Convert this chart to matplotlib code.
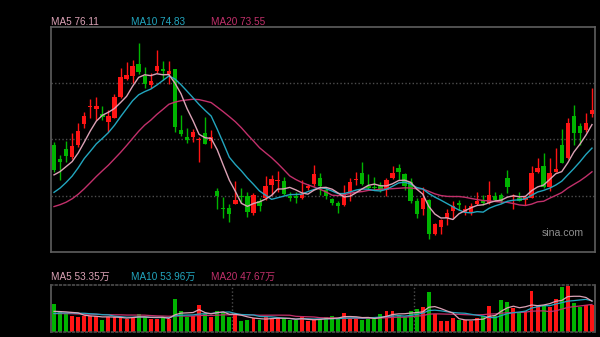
import numpy as np
import pandas as pd
import matplotlib
matplotlib.use("Agg")
import matplotlib.pyplot as plt

# daily prices, 90 sessions
opens = [75.00, 74.25, 74.79, 74.37, 75.00, 76.12, 77.06, 76.95, 76.68, 76.23,
         76.48, 77.59, 78.56, 78.75, 79.39, 78.75, 78.25, 79.02, 79.12, 78.85,
         79.10, 75.82, 75.45, 75.42, 75.29, 75.64, 75.22, 72.52, 71.61, 71.61,
         71.81, 72.24, 72.21, 71.31, 71.99, 72.15, 72.84, 73.04, 73.07, 72.24,
         72.26, 72.12, 72.68, 72.88, 73.23, 72.57, 72.07, 71.88, 71.76, 72.48,
         73.11, 73.50, 72.80, 72.75, 72.84, 72.57, 73.20, 73.74, 73.42, 73.02,
         71.97, 71.52, 72.03, 70.19, 70.55, 71.04, 71.43, 71.87, 71.39, 71.39,
         71.80, 72.03, 71.85, 72.21, 72.30, 73.20, 72.19, 72.12, 72.03, 72.15,
         73.56, 73.87, 72.75, 73.56, 75.00, 74.28, 76.57, 76.03, 75.82, 76.68]
highs = [75.15, 74.46, 75.22, 75.64, 76.18, 76.77, 77.49, 77.59, 77.11, 76.90,
         77.76, 79.15, 79.51, 79.60, 80.51, 79.21, 78.92, 80.14, 79.55, 79.55,
         79.12, 76.63, 75.91, 75.85, 75.45, 76.54, 75.82, 72.69, 72.17, 71.81,
         73.07, 72.68, 72.48, 72.39, 72.12, 73.34, 73.38, 73.60, 73.29, 72.48,
         72.48, 73.11, 72.89, 73.91, 73.50, 72.75, 72.15, 71.94, 72.84, 73.23,
         73.53, 74.10, 73.42, 73.29, 73.00, 73.20, 73.87, 73.96, 73.47, 73.20,
         72.12, 72.75, 72.05, 70.77, 70.98, 71.54, 71.99, 72.03, 71.76, 71.85,
         72.45, 72.30, 73.07, 72.48, 72.39, 73.65, 72.34, 72.48, 72.21, 73.87,
         74.28, 74.59, 74.28, 74.83, 75.85, 76.45, 77.17, 76.18, 76.75, 78.10]
lows = [73.53, 73.11, 74.07, 74.25, 74.91, 75.94, 76.45, 76.36, 76.36, 75.72,
        76.45, 77.53, 78.52, 78.34, 78.83, 78.07, 78.07, 78.88, 78.52, 78.29,
        75.72, 75.51, 75.10, 75.15, 74.10, 75.04, 74.86, 71.54, 71.04, 70.85,
        71.80, 71.87, 71.12, 71.22, 71.45, 72.03, 72.30, 72.48, 72.30, 71.99,
        71.85, 72.08, 72.57, 72.79, 72.30, 72.08, 71.76, 71.34, 71.70, 71.99,
        72.84, 72.84, 72.62, 72.57, 72.46, 72.24, 73.15, 73.11, 72.57, 71.85,
        71.07, 71.22, 69.92, 70.10, 70.19, 70.68, 71.07, 71.49, 71.22, 71.22,
        71.76, 71.76, 71.80, 71.94, 71.85, 72.39, 71.54, 71.94, 71.76, 72.12,
        73.47, 72.69, 72.52, 73.53, 74.01, 74.25, 75.00, 75.00, 75.69, 76.54]
closes = [73.65, 74.07, 74.43, 74.95, 75.76, 76.57, 77.10, 77.11, 76.54, 76.57,
          77.59, 78.70, 78.79, 79.29, 78.97, 78.29, 78.48, 79.29, 79.02, 79.02,
          75.99, 75.60, 75.27, 75.71, 75.33, 75.06, 75.42, 72.21, 71.52, 71.27,
          72.03, 72.16, 71.39, 72.30, 71.72, 72.79, 73.16, 73.09, 72.35, 72.12,
          72.12, 72.34, 72.76, 73.42, 72.79, 72.21, 71.85, 71.72, 72.35, 73.02,
          73.15, 72.89, 72.66, 72.69, 72.57, 73.11, 73.47, 73.53, 72.79, 71.99,
          71.27, 72.12, 70.19, 70.73, 70.91, 71.31, 71.67, 71.76, 71.54, 71.72,
          71.94, 71.85, 72.30, 72.03, 71.94, 72.75, 72.24, 71.99, 72.16, 73.47,
          73.78, 72.75, 73.50, 73.71, 74.05, 76.18, 75.64, 75.64, 76.18, 76.90]
# volume in 万 shares
volumes = [48.1, 34.3, 30.9, 26.9, 25.2, 28.0, 28.0, 28.0, 21.2, 25.8,
           25.8, 25.8, 21.8, 25.8, 30.9, 26.3, 21.8, 22.9, 25.2, 21.8,
           56.7, 36.6, 25.2, 28.0, 46.9, 30.9, 26.3, 35.5, 34.3, 26.3,
           30.9, 18.3, 21.2, 24.0, 21.2, 26.9, 22.9, 24.0, 24.0, 20.0,
           20.0, 26.9, 18.3, 20.6, 22.9, 26.3, 28.0, 22.9, 32.6, 24.0,
           24.0, 21.2, 24.0, 24.0, 30.9, 35.5, 36.6, 29.8, 25.2, 36.6,
           40.1, 42.4, 69.8, 30.9, 19.5, 19.5, 24.0, 21.2, 20.6, 18.3,
           24.0, 26.9, 45.8, 28.0, 55.5, 52.7, 41.1, 32.6, 36.6, 70.6,
           46.9, 46.9, 44.1, 57.2, 77.75, 80.1, 49.8, 44.1, 46.9, 45.85]

# the 19 sessions before the window, only used to seed the moving averages
prev_closes = [72.03, 71.76, 71.22, 70.84, 70.62, 70.51, 70.40, 70.30, 70.51, 70.73,
               71.76, 71.38, 71.49, 71.27, 71.54, 73.18, 73.07, 73.60, 73.41]
prev_volumes = [30.5, 33.0, 29.4, 35.2, 31.8, 28.6, 34.0, 30.2, 27.5, 32.4,
                26.8, 29.9, 25.7, 31.3, 28.2, 36.4, 33.8, 31.5, 29.0]

# first session of each new month
month_starts = [30, 60]

RED = "#ff1414"
GREEN = "#00b400"
C_MA5 = "#dca2b6"
C_MA10 = "#22a6bf"
C_MA20 = "#c2306b"
GRID = "#4d4d4d"
FRAME = "#5e5e5e"
FONT = ["Liberation Sans", "Noto Sans CJK SC"]


def moving_averages(history, values, windows=(5, 10, 20)):
    s = pd.Series(list(history) + list(values))
    n = len(values)
    return [s.rolling(w).mean().to_numpy()[-n:] for w in windows]


def main():
    o = np.array(opens)
    h = np.array(highs)
    l = np.array(lows)
    c = np.array(closes)
    v = np.array(volumes)
    x = np.arange(len(c))
    colors = np.where(c >= o, RED, GREEN)

    fig = plt.figure(figsize=(6, 3.37), dpi=100, facecolor="black")
    ax = fig.add_axes([51 / 600, 1 - 252 / 337, 544 / 600, 225 / 337])
    axv = fig.add_axes([51 / 600, 1 - 332 / 337, 544 / 600, 47 / 337])

    for a in (ax, axv):
        a.set_facecolor("black")
        a.set_xlim(-0.5, len(x) - 0.5)
        a.set_xticks([])
        a.set_yticks([])
        for sp in a.spines.values():
            sp.set_color(FRAME)
            sp.set_linewidth(1.2)

    # candles
    ax.set_ylim(69.2, 81.4)
    lo, hi = ax.get_ylim()
    for yv in np.linspace(lo, hi, 5)[1:-1]:
        ax.axhline(yv, color=GRID, lw=1.0, ls=(0, (1, 1.6)), zorder=0)
    ax.vlines(x, l, h, colors=colors, lw=1.0, zorder=2)
    body = np.maximum(np.abs(c - o), 0.04)
    ax.bar(x, body, bottom=np.minimum(o, c), width=0.72, color=colors,
           linewidth=0, zorder=3)

    ma5, ma10, ma20 = moving_averages(prev_closes, closes)
    ax.plot(x, ma20, color=C_MA20, lw=1.0, zorder=4)
    ax.plot(x, ma10, color=C_MA10, lw=1.0, zorder=4)
    ax.plot(x, ma5, color=C_MA5, lw=1.0, zorder=4)

    ty = 1 - 22 / 337
    fig.text(51 / 600, ty, f"MA5 {ma5[-1]:.2f}", color=C_MA5, fontsize=7.2,
             va="center", family=FONT)
    fig.text(131 / 600, ty, f"MA10 {ma10[-1]:.2f}", color=C_MA10, fontsize=7.2,
             va="center", family=FONT)
    fig.text(211 / 600, ty, f"MA20 {ma20[-1]:.2f}", color=C_MA20, fontsize=7.2,
             va="center", family=FONT)
    fig.text(584 / 600, 1 - 233 / 337, "sina.com", color="#8e8e8e",
             fontsize=7.6, ha="right", va="center", family=FONT)

    # volume
    axv.set_ylim(0, v.max() * 1.015)
    for side in ("top", "bottom"):
        axv.spines[side].set_color(GRID)
        axv.spines[side].set_linestyle((0, (1, 1.6)))
    for m in month_starts:
        axv.axvline(m - 0.5, color=GRID, lw=1.0, ls=(0, (1, 1.6)), zorder=0)
    axv.bar(x, v, width=0.65, color=colors, linewidth=0, zorder=2)

    vma5, vma10, vma20 = moving_averages(prev_volumes, volumes)
    axv.plot(x, vma20, color=C_MA20, lw=0.9, zorder=3)
    axv.plot(x, vma10, color=C_MA10, lw=0.9, zorder=3)
    axv.plot(x, vma5, color=C_MA5, lw=0.9, zorder=3)

    vy = 1 - 277 / 337
    fig.text(51 / 600, vy, f"MA5 {vma5[-1]:.2f}万", color=C_MA5, fontsize=7.2,
             va="center", family=FONT)
    fig.text(131 / 600, vy, f"MA10 {vma10[-1]:.2f}万", color=C_MA10, fontsize=7.2,
             va="center", family=FONT)
    fig.text(211 / 600, vy, f"MA20 {vma20[-1]:.2f}万", color=C_MA20, fontsize=7.2,
             va="center", family=FONT)

    fig.savefig("out.png", dpi=100, facecolor="black")


if __name__ == "__main__":
    main()
